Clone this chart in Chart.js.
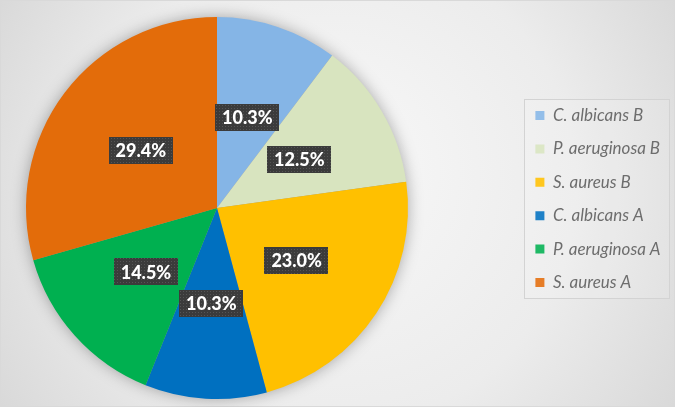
<!DOCTYPE html>
<html>
<head>
<meta charset="utf-8">
<script src="https://cdn.jsdelivr.net/npm/chart.js@4.4.1/dist/chart.umd.min.js"></script>
<style>
  html, body { margin: 0; padding: 0; background: #fff; }
  #wrap { width: 675px; height: 407px; position: relative; }
</style>
</head>
<body>
<div id="wrap"><canvas id="pie1"></canvas></div>
<script>
const labels = ['C. albicans B', 'P. aeruginosa B', 'S. aureus B', 'C. albicans A', 'P. aeruginosa A', 'S. aureus A'];
const shares = [10.3, 12.5, 23.0, 10.3, 14.5, 29.4];
const colors = ['#85B5E6', '#D8E4BF', '#FFC000', '#0070C0', '#00B050', '#E36C0A'];

const pieRadius = 191;

// gradient backdrop + thin frame
const backdrop = {
  id: 'backdrop',
  beforeDraw(chart) {
    const {ctx, width, height} = chart;
    ctx.save();
    const g = ctx.createRadialGradient(width / 2, height / 2 - 40, 20, width / 2, height / 2, width * 0.62);
    g.addColorStop(0, '#f7f7f7');
    g.addColorStop(0.55, '#ececec');
    g.addColorStop(1, '#d6d6d6');
    ctx.fillStyle = g;
    ctx.fillRect(0, 0, width, height);
    ctx.strokeStyle = '#d9d9d9';
    ctx.lineWidth = 1;
    ctx.strokeRect(0.5, 0.5, width - 1, height - 1);
    ctx.restore();
  }
};

// soft shadow under the pie
const pieShadow = {
  id: 'pieShadow',
  beforeDatasetsDraw(chart) {
    const arc = chart.getDatasetMeta(0).data[0];
    if (!arc) return;
    const {ctx} = chart;
    ctx.save();
    ctx.shadowColor = 'rgba(0,0,0,0.35)';
    ctx.shadowBlur = 16;
    ctx.fillStyle = '#999';
    ctx.beginPath();
    ctx.arc(arc.x, arc.y, arc.outerRadius - 1, 0, Math.PI * 2);
    ctx.fill();
    ctx.restore();
  }
};

// dark textured boxes with the percentage
let dots;
function dotPattern(ctx) {
  if (dots) return dots;
  const c = document.createElement('canvas');
  c.width = 3; c.height = 3;
  const p = c.getContext('2d');
  p.fillStyle = '#3b3b3b';
  p.fillRect(0, 0, 3, 3);
  p.fillStyle = '#555';
  p.fillRect(0, 0, 1, 1);
  dots = ctx.createPattern(c, 'repeat');
  return dots;
}
const sliceLabels = {
  id: 'sliceLabels',
  afterDatasetsDraw(chart) {
    const {ctx} = chart;
    const meta = chart.getDatasetMeta(0);
    ctx.save();
    ctx.font = '900 18px Lato';
    ctx.textAlign = 'center';
    ctx.textBaseline = 'middle';
    meta.data.forEach((arc, i) => {
      const p = arc.tooltipPosition();
      const txt = shares[i].toFixed(1) + '%';
      const w = ctx.measureText(txt).width + 14;
      const h = 27;
      ctx.fillStyle = dotPattern(ctx);
      ctx.fillRect(Math.round(p.x - w / 2), Math.round(p.y - h / 2), Math.round(w), h);
      ctx.fillStyle = '#ffffff';
      ctx.fillText(txt, p.x, p.y + 1);
    });
    ctx.restore();
  }
};

// pie keeps to the left, legend sits further right, framed
const legendFrame = {
  id: 'legendFrame',
  afterLayout(chart) {
    const ca = chart.chartArea;
    ca.right = ca.left + pieRadius * 2;
    ca.width = pieRadius * 2;
    const lg = chart.legend;
    const dx = 519 - lg.left;
    lg.left += dx;
    lg.right += dx;
    lg.top -= 9;
    lg.bottom -= 9;
  },
  afterDraw(chart) {
    const boxes = chart.legend.legendHitBoxes;
    if (!boxes || !boxes.length) return;
    const l = Math.min(...boxes.map(b => b.left)) - 11;
    const r = Math.max(...boxes.map(b => b.left + b.width)) + 9;
    const t = boxes[0].top - 8;
    const last = boxes[boxes.length - 1];
    const btm = last.top + last.height + 7;
    const {ctx} = chart;
    ctx.save();
    ctx.fillStyle = 'rgba(255,255,255,0.12)';
    ctx.fillRect(l, t, r - l, btm - t);
    ctx.strokeStyle = '#d3d3d3';
    ctx.lineWidth = 1;
    ctx.strokeRect(Math.round(l) + 0.5, Math.round(t) + 0.5, Math.round(r - l), Math.round(btm - t));
    ctx.restore();
  }
};

new Chart(document.getElementById('pie1'), {
  type: 'pie',
  data: {
    labels: labels,
    datasets: [{
      data: shares,
      backgroundColor: colors,
      borderWidth: 0,
      radius: pieRadius
    }]
  },
  options: {
    responsive: true,
    maintainAspectRatio: false,
    animation: false,
    layout: { padding: { left: 26, right: 7, top: 17, bottom: 8 } },
    plugins: {
      legend: {
        position: 'right',
        labels: {
          boxWidth: 9,
          boxHeight: 9,
          padding: 16.4,
          color: '#595959',
          font: { family: 'Lato', size: 17, style: 'italic' }
        }
      },
      tooltip: { enabled: false }
    }
  },
  plugins: [backdrop, pieShadow, sliceLabels, legendFrame]
});
</script>
</body>
</html>
